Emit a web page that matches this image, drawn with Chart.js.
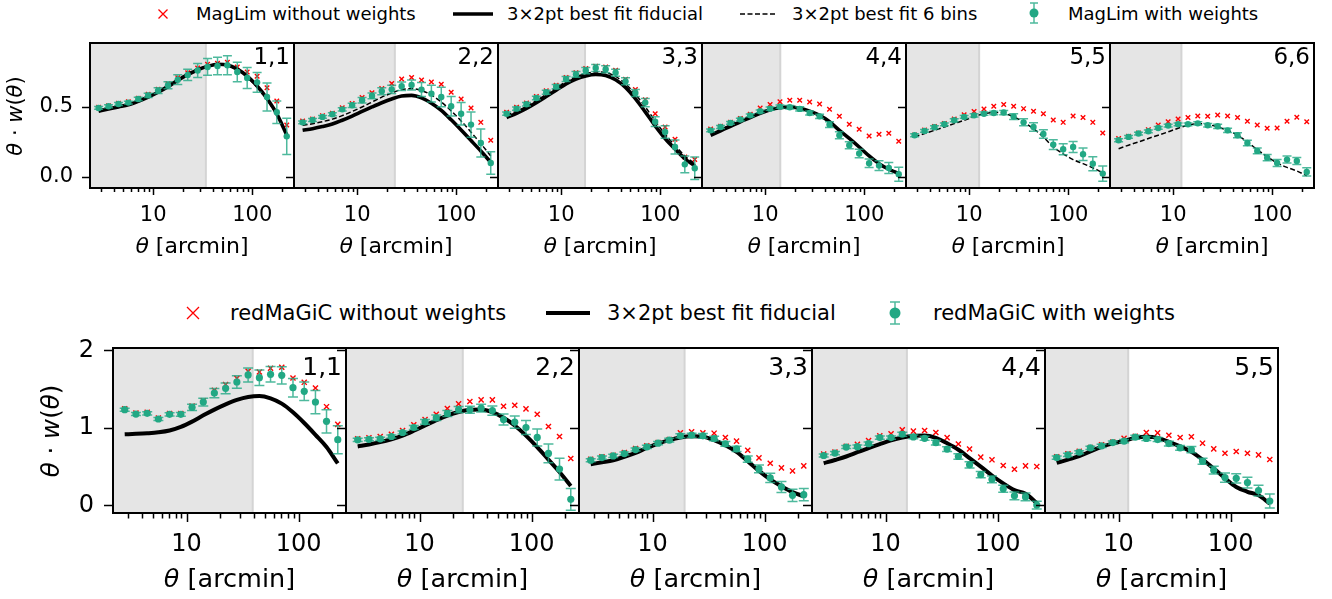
<!DOCTYPE html>
<html>
<head>
<meta charset="utf-8">
<script src="https://cdn.jsdelivr.net/npm/chart.js@4/dist/chart.umd.min.js"></script>
<style>
  body { margin: 0; background: #fff; width: 1332px; height: 599px; position: relative; overflow: hidden; font-family: "DejaVu Sans", sans-serif; }
  canvas { position: absolute; }
  .leg { position: absolute; white-space: nowrap; line-height: 1; transform: translateY(-50%); color: #000; }
  svg { position: absolute; left: 0; top: 0; }
</style>
</head>
<body>
<svg width="1332" height="599" id="legsym"></svg>
<div class="leg" style="left:196px;top:14px;font-size:18px">MagLim without weights</div>
<div class="leg" style="left:507px;top:14px;font-size:18px">3×2pt best fit fiducial</div>
<div class="leg" style="left:792px;top:14px;font-size:18px">3×2pt best fit 6 bins</div>
<div class="leg" style="left:1068px;top:14px;font-size:18px">MagLim with weights</div>
<div class="leg" style="left:230px;top:313px;font-size:21px">redMaGiC without weights</div>
<div class="leg" style="left:607px;top:313px;font-size:21px">3×2pt best fit fiducial</div>
<div class="leg" style="left:933px;top:313px;font-size:21px">redMaGiC with weights</div>
<script>
// angular bin centres, arcmin
const THETA = [2.81, 3.54, 4.46, 5.61, 7.06, 8.89, 11.2, 14.1, 17.7, 22.3, 28.1, 35.4, 44.6, 56.1, 70.6, 88.9, 112, 141, 177, 223];
const XTICKS_MAJOR = [10, 100];
const XTICKS_MINOR = [3, 4, 5, 6, 7, 8, 9, 20, 30, 40, 50, 60, 70, 80, 90, 200];

// MagLim
const ML_BINS = ['1,1', '2,2', '3,3', '4,4', '5,5', '6,6'];
const ML_CUTS = [34.0, 24.0, 17.4, 14.2, 12.6, 12.1];
const ML_YTICKS = [0, 0.5];
const ML_WITH = [
  [0.493, 0.505, 0.521, 0.531, 0.557, 0.583, 0.617, 0.655, 0.695, 0.729, 0.760, 0.786, 0.793, 0.798, 0.750, 0.707, 0.676, 0.571, 0.462, 0.290],
  [0.390, 0.407, 0.429, 0.448, 0.483, 0.512, 0.548, 0.579, 0.612, 0.626, 0.648, 0.657, 0.624, 0.595, 0.571, 0.505, 0.452, 0.374, 0.243, 0.100],
  [0.452, 0.488, 0.519, 0.564, 0.605, 0.645, 0.700, 0.733, 0.760, 0.779, 0.769, 0.745, 0.683, 0.600, 0.531, 0.395, 0.321, 0.214, 0.090, 0.062],
  [0.333, 0.357, 0.386, 0.410, 0.440, 0.469, 0.488, 0.502, 0.498, 0.486, 0.457, 0.433, 0.374, 0.298, 0.226, 0.167, 0.098, 0.081, 0.064, 0.019],
  [0.298, 0.329, 0.355, 0.376, 0.405, 0.429, 0.440, 0.452, 0.457, 0.460, 0.431, 0.390, 0.357, 0.307, 0.231, 0.198, 0.214, 0.162, 0.095, 0.024],
  [0.262, 0.286, 0.310, 0.326, 0.350, 0.367, 0.376, 0.376, 0.383, 0.369, 0.362, 0.333, 0.298, 0.243, 0.186, 0.138, 0.100, 0.124, 0.114, 0.036]
];
const ML_ERR = [
  [0.01, 0.01, 0.01, 0.01, 0.012, 0.015, 0.02, 0.025, 0.035, 0.04, 0.05, 0.06, 0.063, 0.068, 0.07, 0.075, 0.07, 0.1, 0.08, 0.13],
  [0.01, 0.01, 0.01, 0.01, 0.012, 0.015, 0.02, 0.02, 0.025, 0.03, 0.03, 0.035, 0.05, 0.06, 0.07, 0.07, 0.08, 0.09, 0.1, 0.08],
  [0.012, 0.012, 0.012, 0.012, 0.015, 0.015, 0.018, 0.02, 0.022, 0.025, 0.025, 0.025, 0.025, 0.025, 0.03, 0.035, 0.045, 0.05, 0.06, 0.08],
  [0.01, 0.01, 0.01, 0.01, 0.01, 0.01, 0.012, 0.012, 0.012, 0.015, 0.015, 0.015, 0.02, 0.025, 0.025, 0.03, 0.03, 0.035, 0.04, 0.05],
  [0.01, 0.01, 0.01, 0.01, 0.01, 0.01, 0.012, 0.012, 0.012, 0.015, 0.02, 0.025, 0.03, 0.03, 0.035, 0.04, 0.04, 0.045, 0.05, 0.055],
  [0.01, 0.01, 0.01, 0.01, 0.01, 0.01, 0.01, 0.01, 0.012, 0.012, 0.015, 0.015, 0.018, 0.02, 0.02, 0.022, 0.025, 0.025, 0.025, 0.03]
];
const ML_WITHOUT = [
  [0.497, 0.509, 0.526, 0.537, 0.563, 0.590, 0.626, 0.666, 0.708, 0.745, 0.778, 0.805, 0.812, 0.819, 0.786, 0.750, 0.719, 0.638, 0.543, 0.371],
  [0.400, 0.414, 0.438, 0.455, 0.495, 0.524, 0.567, 0.602, 0.631, 0.667, 0.700, 0.710, 0.693, 0.679, 0.662, 0.605, 0.557, 0.493, 0.390, 0.262],
  [0.462, 0.498, 0.529, 0.574, 0.615, 0.655, 0.710, 0.745, 0.774, 0.790, 0.786, 0.762, 0.698, 0.624, 0.552, 0.452, 0.357, 0.269, 0.143, 0.124],
  [0.343, 0.362, 0.390, 0.417, 0.448, 0.493, 0.517, 0.538, 0.548, 0.548, 0.536, 0.521, 0.483, 0.433, 0.376, 0.340, 0.293, 0.305, 0.312, 0.255],
  [0.300, 0.336, 0.360, 0.381, 0.414, 0.445, 0.467, 0.486, 0.505, 0.517, 0.505, 0.488, 0.469, 0.452, 0.407, 0.390, 0.436, 0.424, 0.390, 0.314],
  [0.274, 0.290, 0.314, 0.338, 0.371, 0.395, 0.414, 0.424, 0.436, 0.433, 0.443, 0.436, 0.424, 0.398, 0.371, 0.348, 0.350, 0.398, 0.426, 0.395]
];
const ML_FID = [
  [0.470, 0.485, 0.500, 0.515, 0.540, 0.570, 0.605, 0.645, 0.690, 0.730, 0.765, 0.790, 0.805, 0.800, 0.770, 0.720, 0.650, 0.560, 0.450, 0.300],
  [0.333, 0.345, 0.360, 0.378, 0.405, 0.435, 0.468, 0.500, 0.530, 0.557, 0.578, 0.583, 0.565, 0.527, 0.476, 0.408, 0.335, 0.260, 0.185, 0.105],
  [0.424, 0.455, 0.490, 0.531, 0.575, 0.620, 0.665, 0.700, 0.722, 0.732, 0.725, 0.695, 0.640, 0.560, 0.465, 0.365, 0.275, 0.200, 0.130, 0.080],
  [0.298, 0.330, 0.362, 0.394, 0.424, 0.455, 0.480, 0.495, 0.500, 0.490, 0.470, 0.440, 0.395, 0.333, 0.275, 0.214, 0.150, 0.095, 0.055, 0.024],
  null,
  null
];
const ML_6BIN = [
  [0.480, 0.493, 0.507, 0.522, 0.547, 0.578, 0.615, 0.656, 0.700, 0.740, 0.772, 0.795, 0.805, 0.795, 0.765, 0.712, 0.640, 0.550, 0.440, 0.300],
  [0.369, 0.380, 0.395, 0.413, 0.438, 0.468, 0.500, 0.535, 0.570, 0.600, 0.625, 0.630, 0.618, 0.585, 0.536, 0.472, 0.400, 0.320, 0.238, 0.150],
  [0.440, 0.470, 0.505, 0.545, 0.590, 0.635, 0.680, 0.715, 0.738, 0.750, 0.745, 0.718, 0.665, 0.590, 0.500, 0.400, 0.305, 0.225, 0.150, 0.095],
  [0.310, 0.340, 0.372, 0.403, 0.432, 0.462, 0.486, 0.500, 0.503, 0.493, 0.472, 0.440, 0.395, 0.335, 0.275, 0.212, 0.150, 0.097, 0.058, 0.030],
  [0.286, 0.310, 0.333, 0.357, 0.381, 0.405, 0.430, 0.452, 0.460, 0.455, 0.430, 0.392, 0.345, 0.285, 0.214, 0.165, 0.124, 0.095, 0.065, 0.030],
  [0.202, 0.227, 0.250, 0.275, 0.298, 0.322, 0.348, 0.369, 0.380, 0.375, 0.357, 0.332, 0.298, 0.250, 0.195, 0.145, 0.100, 0.068, 0.043, 0.008]
];

// redMaGiC
const RM_BINS = ['1,1', '2,2', '3,3', '4,4', '5,5'];
const RM_CUTS = [38.9, 24.3, 19.3, 15.5, 12.2];
const RM_YTICKS = [0, 1, 2];
const RM_WITH = [
  [1.234, 1.178, 1.187, 1.114, 1.174, 1.174, 1.265, 1.333, 1.449, 1.510, 1.591, 1.682, 1.647, 1.690, 1.677, 1.518, 1.471, 1.333, 1.084, 0.847],
  [0.845, 0.852, 0.858, 0.888, 0.940, 1.004, 1.077, 1.129, 1.185, 1.236, 1.232, 1.253, 1.223, 1.107, 1.073, 1.004, 0.876, 0.670, 0.468, 0.077],
  [0.582, 0.616, 0.638, 0.668, 0.720, 0.754, 0.802, 0.841, 0.897, 0.905, 0.897, 0.862, 0.793, 0.728, 0.595, 0.470, 0.353, 0.237, 0.129, 0.138],
  [0.643, 0.674, 0.752, 0.757, 0.796, 0.874, 0.874, 0.917, 0.883, 0.865, 0.809, 0.726, 0.630, 0.522, 0.396, 0.335, 0.213, 0.122, 0.109, 0.004],
  [0.616, 0.651, 0.685, 0.741, 0.767, 0.810, 0.828, 0.879, 0.862, 0.849, 0.797, 0.741, 0.720, 0.569, 0.453, 0.358, 0.349, 0.293, 0.190, 0.056]
];
const RM_ERR = [
  [0.02, 0.02, 0.02, 0.02, 0.02, 0.025, 0.04, 0.05, 0.06, 0.07, 0.08, 0.09, 0.1, 0.1, 0.11, 0.12, 0.12, 0.15, 0.15, 0.18],
  [0.02, 0.02, 0.02, 0.02, 0.02, 0.025, 0.03, 0.035, 0.04, 0.04, 0.045, 0.05, 0.06, 0.07, 0.08, 0.09, 0.11, 0.12, 0.14, 0.14],
  [0.02, 0.02, 0.02, 0.02, 0.02, 0.02, 0.02, 0.025, 0.025, 0.025, 0.03, 0.03, 0.03, 0.035, 0.04, 0.05, 0.06, 0.07, 0.08, 0.08],
  [0.02, 0.02, 0.02, 0.02, 0.02, 0.02, 0.02, 0.025, 0.025, 0.025, 0.03, 0.03, 0.035, 0.04, 0.04, 0.045, 0.045, 0.05, 0.05, 0.05],
  [0.02, 0.02, 0.02, 0.02, 0.02, 0.02, 0.02, 0.025, 0.025, 0.025, 0.03, 0.03, 0.04, 0.04, 0.05, 0.06, 0.06, 0.07, 0.07, 0.09]
];
const RM_WITHOUT = [
  [1.245, 1.190, 1.200, 1.125, 1.185, 1.185, 1.280, 1.350, 1.484, 1.557, 1.639, 1.729, 1.720, 1.768, 1.781, 1.643, 1.587, 1.514, 1.273, 1.045],
  [0.858, 0.871, 0.888, 0.918, 0.966, 1.039, 1.107, 1.176, 1.249, 1.309, 1.339, 1.361, 1.361, 1.279, 1.292, 1.245, 1.176, 1.017, 0.888, 0.605],
  [0.595, 0.625, 0.647, 0.681, 0.733, 0.767, 0.810, 0.849, 0.935, 0.948, 0.935, 0.931, 0.875, 0.828, 0.711, 0.612, 0.543, 0.483, 0.444, 0.509],
  [0.661, 0.687, 0.761, 0.787, 0.835, 0.896, 0.922, 0.974, 0.957, 0.965, 0.939, 0.874, 0.791, 0.726, 0.622, 0.587, 0.513, 0.465, 0.509, 0.500],
  [0.625, 0.664, 0.698, 0.746, 0.780, 0.815, 0.866, 0.892, 0.940, 0.935, 0.905, 0.875, 0.884, 0.802, 0.728, 0.672, 0.694, 0.672, 0.651, 0.591]
];
const RM_FID = [
  [0.916, 0.922, 0.930, 0.942, 0.965, 1.011, 1.080, 1.161, 1.235, 1.303, 1.360, 1.398, 1.410, 1.380, 1.312, 1.200, 1.062, 0.910, 0.753, 0.540],
  [0.760, 0.785, 0.815, 0.853, 0.900, 0.962, 1.030, 1.098, 1.159, 1.205, 1.232, 1.236, 1.202, 1.130, 1.030, 0.900, 0.751, 0.590, 0.429, 0.249],
  [0.530, 0.555, 0.582, 0.627, 0.677, 0.740, 0.797, 0.842, 0.875, 0.890, 0.885, 0.841, 0.775, 0.690, 0.570, 0.444, 0.335, 0.246, 0.170, 0.116],
  [0.543, 0.585, 0.630, 0.685, 0.739, 0.790, 0.839, 0.875, 0.896, 0.900, 0.870, 0.800, 0.717, 0.610, 0.500, 0.385, 0.283, 0.196, 0.150, 0.030],
  [0.547, 0.590, 0.634, 0.695, 0.754, 0.800, 0.832, 0.871, 0.884, 0.870, 0.819, 0.760, 0.690, 0.590, 0.474, 0.350, 0.237, 0.175, 0.129, 0.022]
];

const GREEN = '#22a884';
const GREEN_ERR = 'rgba(34,168,132,0.8)';
const RED = '#ff0000';
const FONT = '"DejaVu Sans", sans-serif';

// row layouts (pixels)
const TOP_ROW = {
  left0: 90, w: 204, top: 43, h: 145, lm: 90, bm: 72, pad: 10,
  xmin: 2.30, xmax: 264, ymin: -0.079, ymax: 0.957,
  tickFont: 21, tickPadX: 15, tickPadY: 17, yTick: 8, xMajor: 7, xMinor: 4,
  titleFont: 22, titleDy: 59, yTitle: [16.5, 116], binFont: 23, binDy: 20.5,
  lw: 3.6, dotR: 3.2, crossR: 3.2, capW: 4.5, yfmt: v => v.toFixed(1)
};
const BOT_ROW = {
  left0: 113, w: 233, top: 348, h: 165, lm: 113, bm: 86, pad: 10,
  xmin: 2.21, xmax: 264, ymin: -0.099, ymax: 2.03,
  tickFont: 24, tickPadX: 17, tickPadY: 19, yTick: 9, xMajor: 9, xMinor: 5.5,
  titleFont: 25.5, titleDy: 67, yTitle: [52.5, 431], binFont: 25, binDy: 26.5,
  lw: 4, dotR: 3.6, crossR: 3.6, capW: 5, yfmt: v => String(v)
};

function richText(ctx, parts, size, cx, cy) {
  let total = 0;
  const widths = parts.map(([t, it]) => {
    ctx.font = (it ? 'italic ' : '') + size + 'px ' + FONT;
    const w = ctx.measureText(t).width;
    total += w;
    return w;
  });
  let x = cx - total / 2;
  ctx.textBaseline = 'middle';
  ctx.textAlign = 'left';
  parts.forEach(([t, it], i) => {
    ctx.font = (it ? 'italic ' : '') + size + 'px ' + FONT;
    ctx.fillText(t, x, cy);
    x += widths[i];
  });
}

function makePanel(row, i, bin, cut, withV, err, withoutV, fid, six, yticks) {
  const cv = document.createElement('canvas');
  const W = row.lm + row.w + row.pad, H = row.pad + row.h + row.bm;
  cv.width = W; cv.height = H;
  cv.style.left = (row.left0 + row.w * i - row.lm) + 'px';
  cv.style.top = (row.top - row.pad) + 'px';
  cv.style.width = W + 'px'; cv.style.height = H + 'px';
  document.body.appendChild(cv);

  const pts = arr => THETA.map((t, k) => ({x: t, y: arr[k]}));
  const datasets = [
    {data: pts(withV), pointStyle: 'circle', pointRadius: row.dotR, backgroundColor: GREEN, borderWidth: 0, showLine: false}
  ];
  if (fid) datasets.push({type: 'line', data: pts(fid), borderColor: '#000', borderWidth: row.lw, pointRadius: 0, cubicInterpolationMode: 'monotone', fill: false});
  if (six) datasets.push({type: 'line', data: pts(six), borderColor: '#000', borderWidth: 1.5, borderDash: [5, 2.5], pointRadius: 0, cubicInterpolationMode: 'monotone', fill: false});
  datasets.push({data: pts(withoutV), pointStyle: 'crossRot', pointRadius: row.crossR, borderColor: RED, backgroundColor: RED, borderWidth: 1.4, showLine: false});

  const deco = {
    id: 'deco' + i,
    beforeDatasetsDraw(chart) {
      const {ctx, chartArea: a, scales: {x}} = chart;
      const cx = x.getPixelForValue(cut);
      ctx.save();
      ctx.fillStyle = '#e5e5e5';
      ctx.fillRect(a.left, a.top, cx - a.left, a.bottom - a.top);
      ctx.strokeStyle = '#d4d4d4';
      ctx.lineWidth = 2;
      ctx.beginPath(); ctx.moveTo(cx, a.top); ctx.lineTo(cx, a.bottom); ctx.stroke();
      ctx.restore();
    },
    beforeDatasetDraw(chart, args) {
      if (args.index !== 0) return;
      const {ctx, scales: {x, y}} = chart;
      ctx.save();
      ctx.strokeStyle = GREEN_ERR;
      ctx.lineWidth = 1.5;
      THETA.forEach((t, k) => {
        const px = x.getPixelForValue(t);
        const lo = y.getPixelForValue(withV[k] - err[k]);
        const hi = y.getPixelForValue(withV[k] + err[k]);
        ctx.beginPath();
        ctx.moveTo(px, lo); ctx.lineTo(px, hi);
        ctx.moveTo(px - row.capW, lo); ctx.lineTo(px + row.capW, lo);
        ctx.moveTo(px - row.capW, hi); ctx.lineTo(px + row.capW, hi);
        ctx.stroke();
      });
      ctx.restore();
    },
    afterDraw(chart) {
      const {ctx, chartArea: a, scales: {x, y}} = chart;
      ctx.save();
      ctx.strokeStyle = '#000';
      ctx.lineWidth = 1.5;
      ctx.beginPath();
      XTICKS_MAJOR.concat(XTICKS_MINOR).forEach(v => {
        const px = Math.round(x.getPixelForValue(v)) + 0.5;
        const len = XTICKS_MAJOR.includes(v) ? row.xMajor : row.xMinor;
        ctx.moveTo(px, a.bottom); ctx.lineTo(px, a.bottom + len);
      });
      yticks.forEach(v => {
        const py = Math.round(y.getPixelForValue(v)) + 0.5;
        ctx.moveTo(a.left, py); ctx.lineTo(a.left - row.yTick, py);
      });
      ctx.stroke();
      ctx.lineWidth = 2;
      ctx.strokeRect(a.left, a.top, a.right - a.left, a.bottom - a.top);
      ctx.fillStyle = '#000';
      ctx.font = row.binFont + 'px ' + FONT;
      ctx.textAlign = 'right';
      ctx.textBaseline = 'alphabetic';
      ctx.fillText(bin, a.right - 4, a.top + row.binDy);
      richText(ctx, [['θ', true], [' [arcmin]', false]], row.titleFont, (a.left + a.right) / 2, a.bottom + row.titleDy);
      if (i === 0) {
        ctx.translate(row.yTitle[0], row.yTitle[1] - (row.top - row.pad));
        ctx.rotate(-Math.PI / 2);
        richText(ctx, [['θ', true], [' · ', false], ['w', true], ['(', false], ['θ', true], [')', false]], row.titleFont - 1, 0, 0);
      }
      ctx.restore();
    }
  };

  new Chart(cv, {
    type: 'scatter',
    data: {datasets},
    options: {
      responsive: false,
      animation: false,
      events: [],
      layout: {padding: {top: row.pad, right: row.pad, left: 0, bottom: 0}},
      plugins: {legend: {display: false}, tooltip: {enabled: false}},
      scales: {
        x: {
          type: 'logarithmic', min: row.xmin, max: row.xmax,
          grid: {display: false, drawTicks: false}, border: {display: false},
          afterBuildTicks: s => { s.ticks = XTICKS_MINOR.concat(XTICKS_MAJOR).sort((p, q) => p - q).map(v => ({value: v})); },
          afterFit: s => { s.height = row.bm; s.paddingLeft = 0; s.paddingRight = 0; },
          ticks: {
            autoSkip: false, maxRotation: 0, minRotation: 0, padding: row.tickPadX, color: '#000',
            font: {family: FONT, size: row.tickFont},
            callback: v => XTICKS_MAJOR.includes(v) ? String(v) : ''
          }
        },
        y: {
          min: row.ymin, max: row.ymax,
          grid: {display: false, drawTicks: false}, border: {display: false},
          afterBuildTicks: s => { s.ticks = yticks.map(v => ({value: v})); },
          afterFit: s => { s.width = row.lm; s.paddingTop = 0; s.paddingBottom = 0; },
          ticks: {
            display: i === 0, padding: row.tickPadY, color: '#000',
            font: {family: FONT, size: row.tickFont},
            callback: v => row.yfmt(v)
          }
        }
      }
    },
    plugins: [deco]
  });
}

ML_BINS.forEach((b, i) => makePanel(TOP_ROW, i, b, ML_CUTS[i], ML_WITH[i], ML_ERR[i], ML_WITHOUT[i], ML_FID[i], ML_6BIN[i], ML_YTICKS));
RM_BINS.forEach((b, i) => makePanel(BOT_ROW, i, b, RM_CUTS[i], RM_WITH[i], RM_ERR[i], RM_WITHOUT[i], RM_FID[i], null, RM_YTICKS));

// legend symbols
const NS = 'http://www.w3.org/2000/svg';
const svg = document.getElementById('legsym');
function el(tag, attrs) {
  const e = document.createElementNS(NS, tag);
  Object.entries(attrs).forEach(([k, v]) => e.setAttribute(k, v));
  svg.appendChild(e);
}
function cross(cx, cy, h) {
  el('path', {d: `M${cx - h} ${cy - h}L${cx + h} ${cy + h}M${cx + h} ${cy - h}L${cx - h} ${cy + h}`, stroke: RED, 'stroke-width': 1.3, fill: 'none'});
}
function marker(cx, cy, r, y0, y1, cap) {
  el('path', {d: `M${cx} ${y0}L${cx} ${y1}M${cx - cap} ${y0}L${cx + cap} ${y0}M${cx - cap} ${y1}L${cx + cap} ${y1}`, stroke: GREEN_ERR, 'stroke-width': 1.5, fill: 'none'});
  el('circle', {cx, cy, r, fill: GREEN});
}
cross(163, 14, 4.5);
el('line', {x1: 453, y1: 14, x2: 493, y2: 14, stroke: '#000', 'stroke-width': 3.6});
el('line', {x1: 740, y1: 14, x2: 776, y2: 14, stroke: '#000', 'stroke-width': 1.5, 'stroke-dasharray': '5 2.5'});
marker(1034, 13, 4.5, 3, 23, 4);
cross(193, 313, 6);
el('line', {x1: 546, y1: 313, x2: 590, y2: 313, stroke: '#000', 'stroke-width': 4});
marker(895, 313, 5.5, 302, 324, 5);
</script>
</body>
</html>
